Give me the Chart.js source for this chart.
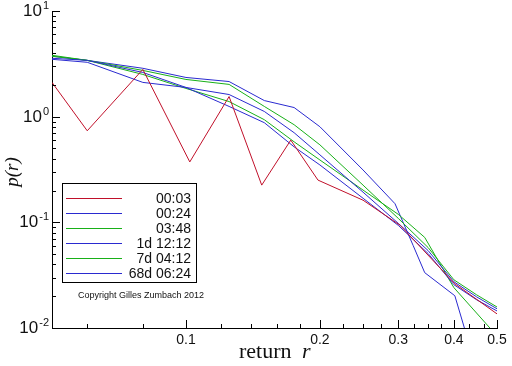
<!DOCTYPE html>
<html>
<head>
<meta charset="utf-8">
<script src="https://cdn.jsdelivr.net/npm/chart.js@4"></script>
<style>
  html, body { margin: 0; padding: 0; background: #fff; }
</style>
</head>
<body>
<canvas id="myCanvas" width="512" height="366"></canvas>
<script>
// values: return r and density p(r)
const names = ["00:03", "00:24", "03:48", "1d 12:12", "7d 04:12", "68d 06:24"];
const colors = ["#c0102a", "#2a2ad0", "#18b018", "#2a2ad0", "#18b018", "#2a2ad0"];

const r_0003 = [0.05, 0.06, 0.08, 0.102, 0.125, 0.148, 0.172, 0.198, 0.25, 0.303, 0.402, 0.5];
const p_0003 = [2.11, 0.735, 2.8, 0.373, 1.55, 0.225, 0.6, 0.251, 0.162, 0.0936, 0.0262, 0.0136];

const r_grid = [0.05, 0.06, 0.08, 0.1, 0.125, 0.15, 0.175, 0.2, 0.25, 0.3, 0.35, 0.4, 0.45, 0.5];
const p_0024 = [3.57, 3.41, 2.62, 1.89, 1.62, 1.12, 0.705, 0.435, 0.193, 0.0978, 0.0541, 0.0274, 0.0197, 0.0152];
const p_0348 = [3.73, 3.41, 2.74, 2.25, 2.02, 1.25, 0.839, 0.541, 0.225, 0.109, 0.0578, 0.0286, 0.0206, 0.0158];
const p_1d = [3.49, 3.27, 2.11, 1.89, 1.25, 0.877, 0.518, 0.349, 0.169, 0.0936, 0.0507, 0.0257, 0.0185, 0.0145];

const r_7d = [0.05, 0.06, 0.08, 0.1, 0.125, 0.15, 0.175, 0.2, 0.25, 0.3, 0.344, 0.372, 0.4, 0.482, 0.5];
const p_7d = [3.81, 3.41, 2.51, 1.85, 1.39, 0.936, 0.578, 0.389, 0.202, 0.119, 0.072, 0.0407, 0.0241, 0.01, 0.0084];

const r_68d = [0.05, 0.06, 0.08, 0.1, 0.125, 0.15, 0.175, 0.2, 0.25, 0.295, 0.324, 0.344, 0.402, 0.423, 0.434];
const p_68d = [3.73, 3.41, 2.87, 2.35, 2.15, 1.42, 1.22, 0.803, 0.313, 0.15, 0.0604, 0.0334, 0.0202, 0.0098, 0.0048];

// axis ticks
const yTicks = [0.01, 0.02, 0.03, 0.04, 0.05, 0.06, 0.07, 0.08, 0.09,
  0.1, 0.2, 0.3, 0.4, 0.5, 0.6, 0.7, 0.8, 0.9,
  1, 2, 3, 4, 5, 6, 7, 8, 9, 10];
const yDecades = [0.01, 0.1, 1, 10];
const xTicks = [0.06, 0.08, 0.1, 0.12, 0.14, 0.16, 0.18, 0.2, 0.225, 0.25, 0.275,
  0.3, 0.325, 0.35, 0.375, 0.4, 0.433, 0.467, 0.5];
const xTickLabels = [0.1, 0.2, 0.3, 0.4, 0.5];

function pts(xs, ys) {
  return xs.map((v, i) => ({ x: v, y: ys[i] }));
}
const series = [
  pts(r_0003, p_0003),
  pts(r_grid, p_0024),
  pts(r_grid, p_0348),
  pts(r_grid, p_1d),
  pts(r_7d, p_7d),
  pts(r_68d, p_68d)
];

// ticks pointing into the plot, decade labels, axis titles, legend box
const decorations = {
  id: "decorations",
  afterDraw(chart) {
    const ctx = chart.ctx;
    const a = chart.chartArea;
    const x = chart.scales.x;
    const y = chart.scales.y;
    ctx.save();
    ctx.strokeStyle = "#000";
    ctx.lineWidth = 1;
    ctx.beginPath();
    x.ticks.forEach(t => {
      const px = Math.round(x.getPixelForValue(t.value)) + 0.5;
      const len = xTickLabels.includes(t.value) ? 8 : 4;
      ctx.moveTo(px, a.bottom);
      ctx.lineTo(px, a.bottom - len);
    });
    y.ticks.forEach(t => {
      const py = Math.round(y.getPixelForValue(t.value)) + 0.5;
      const len = yDecades.includes(t.value) ? 8 : 4;
      ctx.moveTo(a.left, py);
      ctx.lineTo(a.left + len, py);
    });
    ctx.stroke();

    // y labels 10^n
    ctx.fillStyle = "#111";
    ctx.textBaseline = "alphabetic";
    yDecades.forEach(v => {
      const py = y.getPixelForValue(v);
      const e = String(Math.round(Math.log10(v)));
      ctx.font = "11px 'Liberation Sans'";
      const ew = ctx.measureText(e).width;
      ctx.textAlign = "right";
      ctx.fillText(e, 49, py - 2);
      ctx.font = "17px 'Liberation Sans'";
      ctx.fillText("10", 48 - ew, py + 5);
    });

    // axis titles
    ctx.textAlign = "left";
    ctx.font = "22px 'Liberation Serif'";
    ctx.fillText("return", 239, 358);
    ctx.font = "italic 22px 'Liberation Serif'";
    ctx.fillText("r", 302, 358);
    ctx.save();
    ctx.translate(18, 172);
    ctx.rotate(-Math.PI / 2);
    ctx.textAlign = "center";
    ctx.font = "italic 19px 'Liberation Serif'";
    ctx.fillText("p(r)", 0, 0);
    ctx.restore();

    // legend
    const bx = 62, by = 183, bw = 134, bh = 99;
    ctx.fillStyle = "#fff";
    ctx.fillRect(bx, by, bw, bh);
    ctx.strokeStyle = "#000";
    ctx.strokeRect(bx + 0.5, by + 0.5, bw, bh);
    ctx.font = "14px 'Liberation Sans'";
    ctx.textAlign = "right";
    ctx.textBaseline = "middle";
    chart.data.datasets.forEach((ds, i) => {
      const ry = by + 15 + i * 15;
      ctx.strokeStyle = ds.borderColor;
      ctx.beginPath();
      ctx.moveTo(66, ry + 0.5);
      ctx.lineTo(122, ry + 0.5);
      ctx.stroke();
      ctx.fillStyle = "#111";
      ctx.fillText(ds.label, 191, ry + 1);
    });
    ctx.font = "9px 'Liberation Sans'";
    ctx.textAlign = "left";
    ctx.fillText("Copyright Gilles Zumbach 2012", 78, 296);
    ctx.restore();
  }
};

new Chart(document.getElementById("myCanvas"), {
  type: "scatter",
  data: {
    datasets: series.map((d, i) => ({
      label: names[i],
      data: d,
      showLine: true,
      borderColor: colors[i],
      backgroundColor: colors[i],
      borderWidth: 1,
      pointRadius: 0,
      tension: 0
    }))
  },
  options: {
    responsive: false,
    animation: false,
    devicePixelRatio: 1,
    layout: { padding: { top: 11, right: 15, left: 0, bottom: 0 } },
    plugins: {
      legend: { display: false },
      tooltip: { enabled: false }
    },
    scales: {
      x: {
        type: "logarithmic",
        min: 0.05,
        max: 0.5,
        afterBuildTicks: (scale) => { scale.ticks = xTicks.map(v => ({ value: v })); },
        afterFit: (scale) => { scale.height = 38; },
        grid: { display: false, drawTicks: false },
        border: { display: true, color: "#000", width: 1 },
        ticks: {
          autoSkip: false,
          maxRotation: 0,
          padding: 4,
          color: "#111",
          font: { family: "Liberation Sans", size: 14 },
          callback: (v) => xTickLabels.includes(v) ? String(v) : ""
        }
      },
      y: {
        type: "logarithmic",
        min: 0.01,
        max: 10,
        afterBuildTicks: (scale) => { scale.ticks = yTicks.map(v => ({ value: v })); },
        afterFit: (scale) => { scale.width = 52; },
        grid: { display: false, drawTicks: false },
        border: { display: true, color: "#000", width: 1 },
        ticks: { display: false }
      }
    }
  },
  plugins: [decorations]
});
</script>
</body>
</html>
